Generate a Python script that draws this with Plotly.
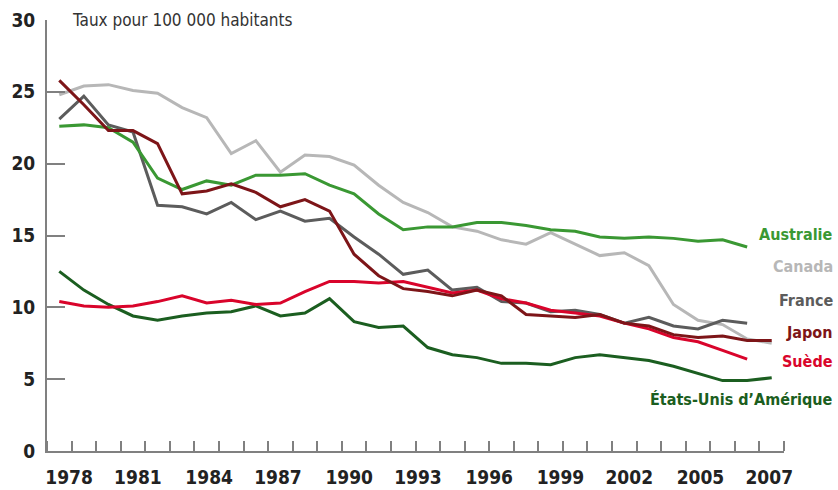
import plotly.graph_objects as go

years = list(range(1978, 2008))

australie = [22.6, 22.7, 22.5, 21.5, 19.0, 18.2, 18.8, 18.5, 19.2, 19.2, 19.3, 18.5, 17.9, 16.5,
             15.4, 15.6, 15.6, 15.9, 15.9, 15.7, 15.4, 15.3, 14.9, 14.8, 14.9, 14.8, 14.6, 14.7, 14.2]
canada = [24.8, 25.4, 25.5, 25.1, 24.9, 23.9, 23.2, 20.7, 21.6, 19.4, 20.6, 20.5, 19.9, 18.5,
          17.3, 16.6, 15.6, 15.3, 14.7, 14.4, 15.2, 14.4, 13.6, 13.8, 12.9, 10.2, 9.1, 8.8, 7.8, 7.5]
france = [23.1, 24.7, 22.7, 22.2, 17.1, 17.0, 16.5, 17.3, 16.1, 16.7, 16.0, 16.2, 14.9, 13.7,
          12.3, 12.6, 11.2, 11.4, 10.4, 10.3, 9.7, 9.8, 9.5, 8.9, 9.3, 8.7, 8.5, 9.1, 8.9]
japon = [25.8, 24.1, 22.3, 22.3, 21.4, 17.9, 18.1, 18.6, 18.0, 17.0, 17.5, 16.7, 13.7, 12.2,
         11.3, 11.1, 10.8, 11.2, 10.8, 9.5, 9.4, 9.3, 9.5, 8.9, 8.7, 8.1, 7.9, 8.0, 7.7, 7.7]
suede = [10.4, 10.1, 10.0, 10.1, 10.4, 10.8, 10.3, 10.5, 10.2, 10.3, 11.1, 11.8, 11.8, 11.7,
         11.8, 11.4, 11.0, 11.2, 10.6, 10.3, 9.8, 9.6, 9.4, 8.9, 8.5, 7.9, 7.6, 7.0, 6.4]
etats_unis = [12.5, 11.2, 10.2, 9.4, 9.1, 9.4, 9.6, 9.7, 10.1, 9.4, 9.6, 10.6, 9.0, 8.6,
              8.7, 7.2, 6.7, 6.5, 6.1, 6.1, 6.0, 6.5, 6.7, 6.5, 6.3, 5.9, 5.4, 4.9, 4.9, 5.1]

series = [
    ("Canada", canada, "#b7b7b7", 12.85),
    ("France", france, "#5c5c5c", 10.5),
    ("Australie", australie, "#3a9833", 15.1),
    ("États-Unis d’Amérique", etats_unis, "#1b5e20", 3.6),
    ("Suède", suede, "#d9042b", 6.26),
    ("Japon", japon, "#7d1518", 8.28),
]

tick_pos = [1978.4, 1981.2, 1984.1, 1986.9, 1989.8, 1992.6, 1995.5, 1998.4, 2001.2, 2004.1, 2006.9]
tick_text = ["1978", "1981", "1984", "1987", "1990", "1993", "1996", "1999", "2002", "2005", "2007"]

cond = "DejaVu Sans Condensed, DejaVu Sans, sans-serif"

fig = go.Figure()
for name, vals, color, ylab in series:
    fig.add_trace(go.Scatter(
        x=years[:len(vals)], y=vals, mode="lines",
        line=dict(color=color, width=3),
        name=name, showlegend=False, hoverinfo="skip",
    ))
    fig.add_annotation(
        x=1.069, xref="paper", y=ylab, yref="y",
        text=name, showarrow=False,
        xanchor="right", yanchor="middle",
        font=dict(family=cond, size=16, color=color, weight="bold"),
    )

fig.add_annotation(
    x=0.031, xref="paper", y=30, yref="y",
    text="Taux pour 100 000 habitants", showarrow=False,
    xanchor="left", yanchor="middle",
    font=dict(family=cond, size=17, color="#333333"),
)

fig.update_layout(
    width=838, height=490,
    paper_bgcolor="white", plot_bgcolor="white",
    margin=dict(l=47, r=54, t=20, b=39),
    xaxis=dict(
        range=[1977.5, 2007.5], automargin=False,
        showgrid=False, zeroline=False,
        showline=True, linecolor="#808080", linewidth=2,
        tickmode="array", tickvals=tick_pos, ticktext=tick_text,
        ticks="", ticklabelstandoff=8,
        tickfont=dict(family=cond, size=19, color="#222222", weight="bold"),
        minor=dict(ticks="inside", tick0=1977.5, dtick=1, ticklen=10,
                   tickcolor="#808080", tickwidth=1.5),
    ),
    yaxis=dict(
        range=[0, 30], automargin=False,
        showgrid=False, zeroline=False,
        showline=True, linecolor="#808080", linewidth=2,
        tickvals=[0, 5, 10, 15, 20, 25, 30],
        ticks="inside", ticklen=18, tickcolor="#808080", tickwidth=1.5,
        ticklabelstandoff=6,
        tickfont=dict(family=cond, size=19, color="#222222", weight="bold"),
    ),
)

fig.write_html("out.html", config={"displayModeBar": False},
               post_script="document.body.style.margin='0';")
